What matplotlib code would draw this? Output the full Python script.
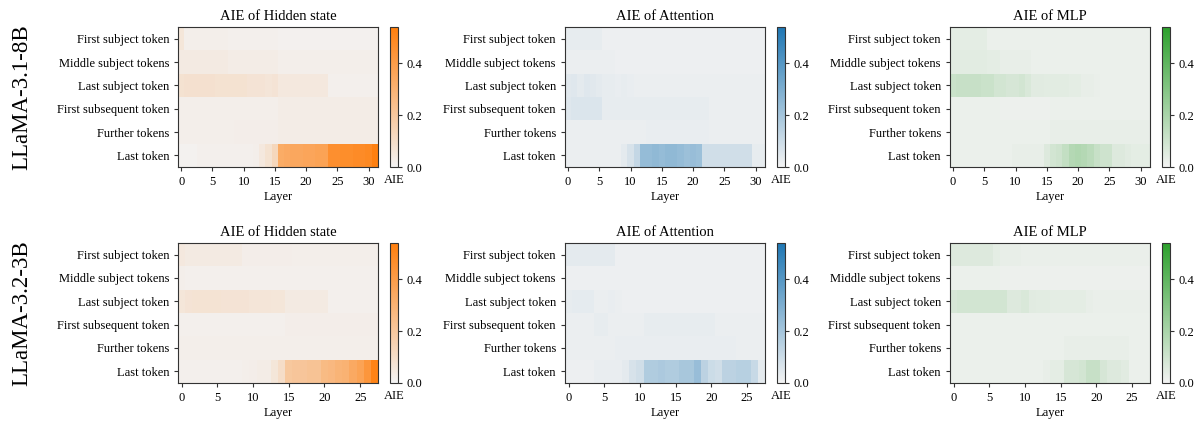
import numpy as np
import matplotlib
matplotlib.use("Agg")
import matplotlib.pyplot as plt
from matplotlib.colors import LinearSegmentedColormap

plt.rcParams['font.family'] = ['Liberation Serif', 'DejaVu Serif']
plt.rcParams['axes.edgecolor'] = '#333333'

token_labels = ["First subject token", "Middle subject tokens", "Last subject token",
                "First subsequent token", "Further tokens", "Last token"]
model_names = ["LLaMA-3.1-8B", "LLaMA-3.2-3B"]
panel_titles = ["AIE of Hidden state", "AIE of Attention", "AIE of MLP"]
panel_colors = ["#ff7f0e", "#1f77b4", "#2ca02c"]
VMAX = 0.54

# ---- LLaMA-3.1-8B (32 layers) ----
hidden_8b = [
    [0.06, 0.02, 0.02, 0.02, 0.02, 0.02, 0.02, 0.02, 0.015, 0.015, 0.015, 0.015, 0.015, 0.015, 0.015, 0.015,
     0.012, 0.012, 0.012, 0.012, 0.012, 0.012, 0.012, 0.012, 0.012, 0.012, 0.012, 0.012, 0.012, 0.012, 0.012, 0.012],
    [0.04, 0.04, 0.04, 0.04, 0.04, 0.04, 0.04, 0.04, 0.03, 0.03, 0.03, 0.03, 0.03, 0.03, 0.03, 0.03,
     0.02, 0.02, 0.02, 0.02, 0.02, 0.02, 0.02, 0.02, 0.02, 0.02, 0.02, 0.02, 0.02, 0.02, 0.02, 0.02],
    [0.08, 0.085, 0.085, 0.085, 0.085, 0.085, 0.08, 0.08, 0.08, 0.08, 0.08, 0.07, 0.07, 0.07, 0.065, 0.07,
     0.05, 0.05, 0.05, 0.05, 0.05, 0.05, 0.05, 0.05, 0.015, 0.015, 0.015, 0.015, 0.015, 0.015, 0.015, 0.015],
    [0.02, 0.02, 0.02, 0.02, 0.02, 0.02, 0.02, 0.02, 0.02, 0.02, 0.02, 0.02, 0.02, 0.02, 0.02, 0.02,
     0.03, 0.03, 0.03, 0.03, 0.03, 0.03, 0.03, 0.03, 0.03, 0.03, 0.03, 0.03, 0.03, 0.03, 0.03, 0.03],
    [0.02, 0.02, 0.02, 0.02, 0.02, 0.02, 0.02, 0.02, 0.02, 0.025, 0.025, 0.025, 0.025, 0.025, 0.025, 0.025,
     0.03, 0.03, 0.03, 0.03, 0.03, 0.03, 0.03, 0.03, 0.03, 0.03, 0.03, 0.03, 0.03, 0.03, 0.03, 0.03],
    [0.01, 0.01, 0.01, 0.015, 0.015, 0.015, 0.015, 0.015, 0.015, 0.015, 0.015, 0.015, 0.02, 0.05, 0.08, 0.13,
     0.33, 0.34, 0.35, 0.35, 0.36, 0.36, 0.37, 0.37, 0.46, 0.46, 0.47, 0.47, 0.48, 0.48, 0.49, 0.53],
]
attn_8b = [
    [0.03, 0.03, 0.03, 0.03, 0.03, 0.03, 0.015, 0.015, 0.015, 0.015, 0.015, 0.015, 0.015, 0.015, 0.015, 0.015,
     0.015, 0.015, 0.015, 0.015, 0.015, 0.015, 0.015, 0.015, 0.015, 0.015, 0.015, 0.015, 0.015, 0.015, 0.015, 0.015],
    [0.02, 0.02, 0.02, 0.02, 0.02, 0.02, 0.02, 0.02, 0.015, 0.015, 0.015, 0.015, 0.015, 0.015, 0.015, 0.015,
     0.015, 0.015, 0.015, 0.015, 0.015, 0.015, 0.015, 0.015, 0.015, 0.015, 0.015, 0.015, 0.015, 0.015, 0.015, 0.015],
    [0.045, 0.05, 0.04, 0.05, 0.045, 0.04, 0.03, 0.03, 0.025, 0.03, 0.025, 0.02, 0.02, 0.02, 0.02, 0.02,
     0.02, 0.02, 0.02, 0.02, 0.02, 0.02, 0.02, 0.02, 0.02, 0.02, 0.02, 0.02, 0.02, 0.02, 0.02, 0.02],
    [0.05, 0.06, 0.06, 0.06, 0.06, 0.06, 0.03, 0.03, 0.03, 0.03, 0.03, 0.03, 0.03, 0.03, 0.03, 0.03,
     0.03, 0.03, 0.03, 0.03, 0.03, 0.03, 0.03, 0.02, 0.02, 0.02, 0.02, 0.02, 0.02, 0.02, 0.02, 0.02],
    [0.02, 0.02, 0.02, 0.02, 0.02, 0.02, 0.02, 0.02, 0.02, 0.02, 0.02, 0.02, 0.02, 0.025, 0.025, 0.025,
     0.025, 0.025, 0.025, 0.025, 0.025, 0.025, 0.025, 0.02, 0.02, 0.02, 0.02, 0.02, 0.02, 0.02, 0.02, 0.02],
    [0.02, 0.02, 0.02, 0.02, 0.02, 0.02, 0.02, 0.02, 0.02, 0.04, 0.07, 0.12, 0.24, 0.24, 0.25, 0.24,
     0.25, 0.25, 0.24, 0.22, 0.23, 0.22, 0.09, 0.09, 0.09, 0.09, 0.09, 0.09, 0.09, 0.09, 0.03, 0.03],
]
mlp_8b = [
    [0.04, 0.04, 0.04, 0.04, 0.04, 0.04, 0.02, 0.02, 0.02, 0.02, 0.02, 0.02, 0.02, 0.02, 0.02, 0.02,
     0.02, 0.02, 0.02, 0.02, 0.02, 0.02, 0.02, 0.02, 0.02, 0.02, 0.02, 0.02, 0.02, 0.02, 0.02, 0.02],
    [0.045, 0.045, 0.045, 0.045, 0.045, 0.045, 0.04, 0.04, 0.03, 0.03, 0.03, 0.03, 0.03, 0.02, 0.02, 0.02,
     0.02, 0.02, 0.02, 0.02, 0.02, 0.02, 0.02, 0.02, 0.02, 0.02, 0.02, 0.02, 0.02, 0.02, 0.02, 0.02],
    [0.11, 0.12, 0.12, 0.12, 0.12, 0.11, 0.11, 0.09, 0.09, 0.08, 0.08, 0.09, 0.07, 0.05, 0.05, 0.045,
     0.045, 0.045, 0.045, 0.04, 0.04, 0.03, 0.03, 0.025, 0.02, 0.02, 0.02, 0.02, 0.02, 0.02, 0.02, 0.02],
    [0.02, 0.02, 0.02, 0.02, 0.02, 0.02, 0.02, 0.02, 0.015, 0.015, 0.015, 0.015, 0.015, 0.015, 0.015, 0.015,
     0.02, 0.02, 0.02, 0.02, 0.02, 0.02, 0.02, 0.02, 0.02, 0.02, 0.02, 0.02, 0.02, 0.02, 0.02, 0.02],
    [0.02, 0.02, 0.02, 0.02, 0.02, 0.02, 0.02, 0.02, 0.02, 0.02, 0.02, 0.02, 0.02, 0.02, 0.02, 0.02,
     0.03, 0.03, 0.03, 0.03, 0.03, 0.03, 0.03, 0.03, 0.03, 0.03, 0.03, 0.03, 0.03, 0.03, 0.03, 0.03],
    [0.02, 0.02, 0.02, 0.02, 0.02, 0.02, 0.02, 0.02, 0.02, 0.02, 0.03, 0.03, 0.03, 0.03, 0.03, 0.06,
     0.09, 0.1, 0.13, 0.17, 0.18, 0.17, 0.15, 0.12, 0.1, 0.1, 0.06, 0.06, 0.05, 0.04, 0.04, 0.04],
]

# ---- LLaMA-3.2-3B (28 layers) ----
hidden_3b = [
    [0.05, 0.04, 0.04, 0.04, 0.04, 0.04, 0.04, 0.04, 0.04, 0.025, 0.025, 0.025, 0.025, 0.025, 0.025, 0.025,
     0.02, 0.02, 0.02, 0.02, 0.02, 0.02, 0.02, 0.02, 0.02, 0.02, 0.02, 0.02],
    [0.02, 0.015, 0.015, 0.015, 0.015, 0.015, 0.015, 0.015, 0.015, 0.015, 0.015, 0.015, 0.015, 0.015, 0.015, 0.015,
     0.015, 0.015, 0.015, 0.015, 0.015, 0.015, 0.015, 0.015, 0.015, 0.015, 0.015, 0.015],
    [0.06, 0.07, 0.075, 0.075, 0.075, 0.075, 0.07, 0.07, 0.07, 0.07, 0.065, 0.065, 0.065, 0.06, 0.06, 0.04,
     0.04, 0.04, 0.04, 0.04, 0.04, 0.015, 0.015, 0.015, 0.015, 0.015, 0.015, 0.015],
    [0.015, 0.015, 0.015, 0.015, 0.015, 0.015, 0.015, 0.015, 0.015, 0.015, 0.015, 0.015, 0.015, 0.015, 0.015, 0.025,
     0.025, 0.025, 0.025, 0.025, 0.025, 0.025, 0.025, 0.025, 0.025, 0.025, 0.025, 0.025],
    [0.02, 0.02, 0.02, 0.02, 0.02, 0.02, 0.02, 0.02, 0.02, 0.02, 0.02, 0.02, 0.02, 0.02, 0.02, 0.02,
     0.02, 0.02, 0.02, 0.02, 0.02, 0.02, 0.02, 0.02, 0.02, 0.02, 0.02, 0.02],
    [0.015, 0.015, 0.015, 0.015, 0.015, 0.015, 0.015, 0.015, 0.015, 0.02, 0.025, 0.03, 0.03, 0.06, 0.1, 0.2,
     0.21, 0.21, 0.22, 0.22, 0.26, 0.27, 0.29, 0.3, 0.34, 0.37, 0.43, 0.52],
]
attn_3b = [
    [0.04, 0.04, 0.04, 0.04, 0.04, 0.04, 0.04, 0.015, 0.015, 0.015, 0.015, 0.015, 0.015, 0.015, 0.015, 0.015,
     0.015, 0.015, 0.015, 0.015, 0.015, 0.015, 0.015, 0.015, 0.015, 0.015, 0.015, 0.015],
    [0.015, 0.015, 0.015, 0.015, 0.015, 0.015, 0.015, 0.015, 0.015, 0.015, 0.015, 0.015, 0.015, 0.015, 0.015, 0.015,
     0.015, 0.015, 0.015, 0.015, 0.015, 0.015, 0.015, 0.015, 0.015, 0.015, 0.015, 0.015],
    [0.03, 0.035, 0.035, 0.035, 0.02, 0.02, 0.025, 0.02, 0.015, 0.015, 0.015, 0.015, 0.015, 0.015, 0.015, 0.015,
     0.015, 0.015, 0.015, 0.015, 0.015, 0.015, 0.015, 0.015, 0.015, 0.015, 0.015, 0.015],
    [0.02, 0.02, 0.02, 0.02, 0.03, 0.03, 0.02, 0.02, 0.02, 0.02, 0.02, 0.03, 0.03, 0.03, 0.03, 0.03,
     0.03, 0.03, 0.03, 0.03, 0.03, 0.02, 0.02, 0.02, 0.02, 0.02, 0.02, 0.02],
    [0.02, 0.02, 0.02, 0.02, 0.02, 0.02, 0.02, 0.025, 0.025, 0.025, 0.025, 0.025, 0.025, 0.025, 0.025, 0.025,
     0.025, 0.025, 0.025, 0.025, 0.025, 0.025, 0.025, 0.025, 0.02, 0.02, 0.02, 0.02],
    [0.015, 0.015, 0.015, 0.015, 0.025, 0.025, 0.025, 0.025, 0.04, 0.07, 0.09, 0.17, 0.17, 0.18, 0.17, 0.17,
     0.19, 0.19, 0.23, 0.14, 0.1, 0.09, 0.14, 0.14, 0.15, 0.15, 0.11, 0.04],
]
mlp_3b = [
    [0.06, 0.06, 0.06, 0.06, 0.06, 0.06, 0.04, 0.03, 0.03, 0.03, 0.025, 0.025, 0.025, 0.025, 0.025, 0.025,
     0.025, 0.025, 0.025, 0.025, 0.025, 0.025, 0.025, 0.025, 0.025, 0.025, 0.025, 0.025],
    [0.02, 0.02, 0.02, 0.02, 0.02, 0.02, 0.02, 0.015, 0.015, 0.015, 0.015, 0.015, 0.015, 0.015, 0.015, 0.015,
     0.015, 0.015, 0.015, 0.015, 0.015, 0.015, 0.015, 0.015, 0.015, 0.015, 0.015, 0.015],
    [0.08, 0.09, 0.09, 0.09, 0.09, 0.09, 0.09, 0.09, 0.06, 0.06, 0.07, 0.05, 0.045, 0.045, 0.04, 0.04,
     0.04, 0.04, 0.04, 0.03, 0.025, 0.025, 0.025, 0.025, 0.025, 0.025, 0.025, 0.025],
    [0.02, 0.02, 0.02, 0.02, 0.02, 0.02, 0.02, 0.02, 0.02, 0.02, 0.02, 0.02, 0.02, 0.02, 0.02, 0.02,
     0.02, 0.02, 0.02, 0.02, 0.02, 0.02, 0.02, 0.02, 0.02, 0.02, 0.02, 0.02],
    [0.02, 0.02, 0.02, 0.02, 0.02, 0.02, 0.02, 0.02, 0.02, 0.02, 0.02, 0.02, 0.02, 0.02, 0.02, 0.02,
     0.03, 0.03, 0.03, 0.03, 0.03, 0.03, 0.03, 0.03, 0.03, 0.02, 0.02, 0.02],
    [0.02, 0.02, 0.02, 0.02, 0.02, 0.02, 0.02, 0.02, 0.02, 0.02, 0.02, 0.02, 0.02, 0.03, 0.04, 0.04,
     0.08, 0.08, 0.09, 0.12, 0.12, 0.08, 0.06, 0.06, 0.05, 0.02, 0.02, 0.02],
]

panels = [[hidden_8b, attn_8b, mlp_8b], [hidden_3b, attn_3b, mlp_3b]]

fig = plt.figure(figsize=(11.99, 4.21), dpi=100)

col_left = [0.1485, 0.4712, 0.7923]
row_bottom = [0.603, 0.0903]
ax_w, ax_h = 0.1668, 0.3325
cb_gap, cb_w = 0.0100, 0.0065

for r in range(2):
    for c in range(3):
        data = np.array(panels[r][c])
        cmap = LinearSegmentedColormap.from_list("aie_%d" % c, ["#f3f3f3", panel_colors[c]])
        ax = fig.add_axes([col_left[c], row_bottom[r], ax_w, ax_h])
        im = ax.imshow(data, cmap=cmap, vmin=0, vmax=VMAX, aspect='auto', interpolation='nearest')
        n_layers = data.shape[1]
        ax.set_xticks(np.arange(0, n_layers, 5))
        ax.set_yticks(np.arange(len(token_labels)))
        ax.set_yticklabels(token_labels)
        ax.tick_params(labelsize=9, length=3, color='#333333')
        ax.set_xlabel("Layer", fontsize=9, labelpad=2)
        ax.set_title(panel_titles[c], fontsize=10.5, pad=5)

        cax = fig.add_axes([col_left[c] + ax_w + cb_gap, row_bottom[r], cb_w, ax_h])
        cb = fig.colorbar(im, cax=cax, ticks=[0.0, 0.2, 0.4])
        cb.ax.tick_params(labelsize=9, length=3, color='#333333')
        cb.ax.set_yticklabels(["0.0", "0.2", "0.4"])
        cb.outline.set_edgecolor('#333333')
        cb.ax.set_xlabel("AIE", fontsize=9, labelpad=5)

    fig.text(0.018, row_bottom[r] + ax_h / 2, model_names[r], rotation=90,
             fontsize=16.5, ha='center', va='center')

fig.savefig("out.png", dpi=100)
